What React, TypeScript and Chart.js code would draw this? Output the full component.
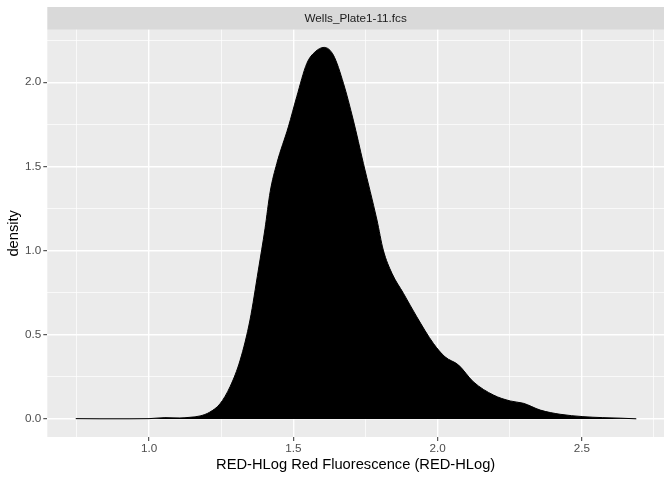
import { useEffect, useRef } from "react";
import { Chart, registerables } from "chart.js";

Chart.register(...registerables);

// density estimate
const densityX = [
  0.746, 0.83, 0.934, 1.0, 1.055, 1.107, 1.142, 1.177, 1.21, 1.246, 1.281, 1.316,
  1.35, 1.379, 1.402, 1.42, 1.443, 1.483, 1.512, 1.547, 1.576, 1.607, 1.639, 1.674,
  1.708, 1.743, 1.79, 1.812, 1.842, 1.882, 1.928, 1.986, 2.026, 2.073, 2.124, 2.194,
  2.252, 2.298, 2.356, 2.425, 2.504, 2.573, 2.633, 2.689,
];
const densityY = [
  0.002, 0.001, 0.001, 0.002, 0.008, 0.006, 0.01, 0.018, 0.04, 0.09, 0.192, 0.35,
  0.588, 0.885, 1.13, 1.35, 1.518, 1.735, 1.914, 2.112, 2.181, 2.207, 2.161, 1.993,
  1.775, 1.518, 1.182, 1.003, 0.865, 0.746, 0.607, 0.448, 0.369, 0.32, 0.221, 0.142,
  0.107, 0.093, 0.053, 0.028, 0.014, 0.008, 0.005, 0.001,
];

// grid positions (majors get labels)
const xGrid = [0.75, 1.0, 1.25, 1.5, 1.75, 2.0, 2.25, 2.5, 2.75];
const yGrid = [0, 0.25, 0.5, 0.75, 1.0, 1.25, 1.5, 1.75, 2.0, 2.25];

const stripLabel = "Wells_Plate1-11.fcs";

const isMajor = (v: number) => Math.abs(v * 2 - Math.round(v * 2)) < 1e-6;

const panelPlugin = {
  id: "panel",
  beforeDraw(chart: Chart) {
    const { ctx, chartArea } = chart;
    ctx.save();
    ctx.fillStyle = "#EBEBEB";
    ctx.fillRect(chartArea.left, chartArea.top, chartArea.right - chartArea.left, chartArea.bottom - chartArea.top);
    // facet strip
    ctx.fillStyle = "#D9D9D9";
    ctx.fillRect(chartArea.left, 7, chartArea.right - chartArea.left, chartArea.top - 7);
    ctx.fillStyle = "#1A1A1A";
    ctx.font = "11.7px 'Liberation Sans', Arial, sans-serif";
    ctx.textAlign = "center";
    ctx.textBaseline = "middle";
    ctx.fillText(stripLabel, (chartArea.left + chartArea.right) / 2, (7 + chartArea.top) / 2 + 0.5);
    ctx.restore();
  },
};

function App() {
  const canvasRef = useRef<HTMLCanvasElement | null>(null);

  useEffect(() => {
    if (!canvasRef.current) return;
    const tickFont = { family: "'Liberation Sans', Arial, sans-serif", size: 11.7 };
    const titleFont = { family: "'Liberation Sans', Arial, sans-serif", size: 14.7 };

    const chart = new Chart(canvasRef.current, {
      type: "line",
      data: {
        datasets: [
          {
            data: densityX.map((x, i) => ({ x, y: densityY[i] })),
            borderColor: "#000000",
            backgroundColor: "#000000",
            borderWidth: 1,
            fill: "origin",
            pointRadius: 0,
            cubicInterpolationMode: "monotone",
          },
        ],
      },
      options: {
        animation: false,
        responsive: false,
        layout: { padding: { left: 0, right: 8, top: 29.7, bottom: 0 } },
        plugins: { legend: { display: false }, tooltip: { enabled: false } },
        scales: {
          x: {
            type: "linear",
            min: 0.6474,
            max: 2.785,
            afterBuildTicks: (scale: any) => {
              scale.ticks = xGrid.map((value) => ({ value }));
            },
            afterFit: (scale: any) => {
              scale.height = 43;
            },
            border: { display: false },
            grid: {
              color: "#FFFFFF",
              lineWidth: (c: any) => (isMajor(c.tick.value) ? 1.4 : 0.7),
              tickLength: 4,
              tickColor: (c: any) => (isMajor(c.tick.value) ? "#333333" : "rgba(0,0,0,0)"),
              tickWidth: 1,
            },
            ticks: {
              padding: 1,
              color: "#4D4D4D",
              font: tickFont,
              maxRotation: 0,
              autoSkip: false,
              callback: (v: any) => (isMajor(Number(v)) ? Number(v).toFixed(1) : ""),
            },
            title: {
              display: true,
              text: "RED-HLog Red Fluorescence (RED-HLog)",
              color: "#000000",
              font: titleFont,
              padding: { top: 0, bottom: 6.2 },
            },
          },
          y: {
            type: "linear",
            min: -0.107,
            max: 2.312,
            afterBuildTicks: (scale: any) => {
              scale.ticks = yGrid.map((value) => ({ value }));
            },
            afterFit: (scale: any) => {
              scale.width = 47.3;
            },
            border: { display: false },
            grid: {
              color: "#FFFFFF",
              lineWidth: (c: any) => (isMajor(c.tick.value) ? 1.4 : 0.7),
              tickLength: 4,
              tickColor: (c: any) => (isMajor(c.tick.value) ? "#333333" : "rgba(0,0,0,0)"),
              tickWidth: 1,
            },
            ticks: {
              padding: 2,
              color: "#4D4D4D",
              font: tickFont,
              autoSkip: false,
              callback: (v: any) => (isMajor(Number(v)) ? Number(v).toFixed(1) : ""),
            },
            title: {
              display: true,
              text: "density",
              color: "#000000",
              font: titleFont,
              padding: { top: 5.2, bottom: 0 },
            },
          },
        },
      },
      plugins: [panelPlugin],
    });

    return () => {
      chart.destroy();
    };
  }, []);

  return (
    <div style={{ position: "absolute", left: 0, top: 0, width: 672, height: 480 }}>
      <canvas ref={canvasRef} width="672" height="480"></canvas>
    </div>
  );
}

export default App;
